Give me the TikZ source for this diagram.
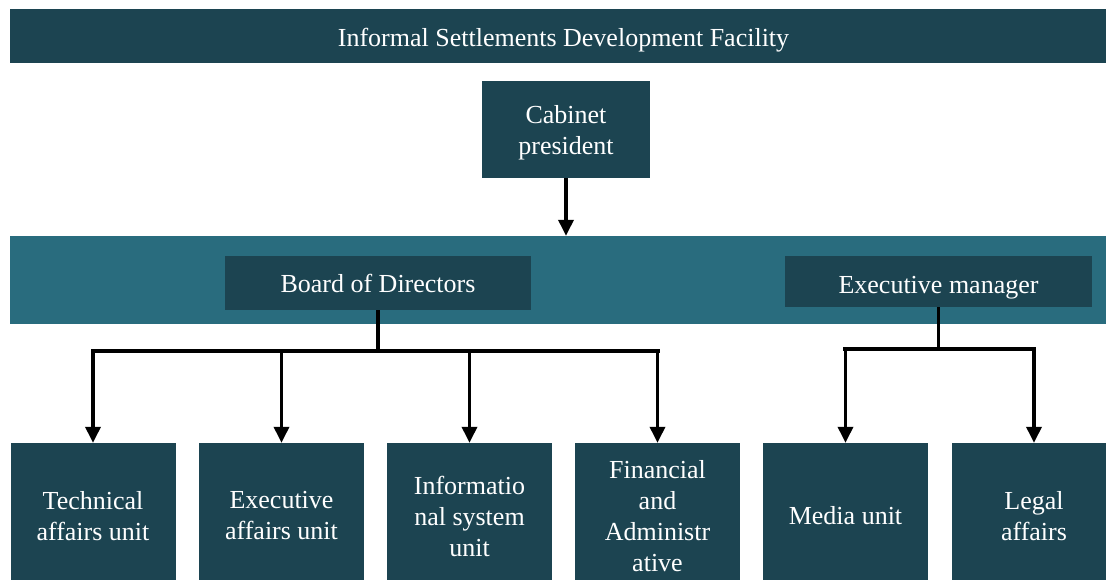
\documentclass[tikz,border=0pt]{standalone}
\usepackage{fontspec}
\setmainfont{Liberation Serif}
\usetikzlibrary{arrows.meta}
\definecolor{darkteal}{RGB}{28,68,81}
\definecolor{bandteal}{RGB}{41,108,126}
\tikzset{
  box/.style={fill=darkteal,text=white,align=center,inner sep=0pt,font=\fontsize{26}{31}\selectfont},
  unit/.style={box,minimum width=165pt,minimum height=146pt},
  lower/.style={execute at begin node={\rule{0pt}{#1}}},
  link/.style={line width=3.5pt},
  arr/.style={line width=3.5pt,-{Triangle[length=16pt,width=15pt]}}
}
\begin{document}
\begin{tikzpicture}[x=1pt,y=-1pt]
    \useasboundingbox (0,0) rectangle (1106,580);
    \clip (0,0) rectangle (1106,580);
    \node[box,lower=27pt,minimum width=1107pt,minimum height=54pt] (title) at (563.5,36) {Informal Settlements Development Facility};
    \node[box,minimum width=168pt,minimum height=97pt] (cabinet) at (566,129.5) {\rule{0pt}{25pt}Cabinet\\president};
    \node[fill=bandteal,inner sep=0pt,minimum width=1107pt,minimum height=88pt] (band) at (563.5,280) {};
    \draw[arr] (cabinet.south) -- (cabinet.south |- band.north);

    \node[box,minimum width=306pt,minimum height=54pt] (board) at (378,283) {Board of Directors};
    \node[box,lower=30pt,minimum width=307pt,minimum height=51pt] (manager) at (938.5,281.5) {Executive manager};

    \node[unit] (tech) at (93,516) {Technical\\affairs unit};
    \node[unit] (exec) at (281.5,516) {Executive\\affairs unit};
    \node[unit] (info) at (469.5,516) {Informatio\\nal system\\unit};
    \node[unit] (fin) at (657.5,516) {Financial\\and\\Administr\\ative};
    \node[unit] (media) at (845.5,516) {Media unit};
    \node[unit] (legal) at (1034,516) {Legal\\affairs};

    \draw[link] (board.south) -- ++(0,41) coordinate (bjoin);
    \draw[line width=4.5pt,line cap=rect] (tech.north |- bjoin) -- (fin.north |- bjoin);
    \foreach \u in {tech,exec,info,fin}
        \draw[arr] (\u.north |- bjoin) -- (\u.north);

    \draw[link] (manager.south) -- ++(0,42) coordinate (mjoin);
    \draw[line width=4.5pt,line cap=rect] (media.north |- mjoin) -- (legal.north |- mjoin);
    \foreach \u in {media,legal}
        \draw[arr] (\u.north |- mjoin) -- (\u.north);
\end{tikzpicture}
\end{document}
